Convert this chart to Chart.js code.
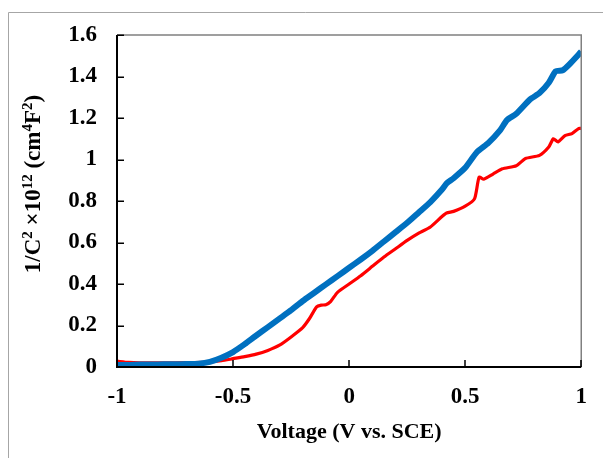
<!DOCTYPE html>
<html>
<head>
<meta charset="utf-8">
<script src="https://cdn.jsdelivr.net/npm/chart.js@4"></script>
<style>
  html, body { margin: 0; padding: 0; background: #fff; }
  #wrap { width: 603px; height: 458px; }
</style>
</head>
<body>
<div id="wrap"><canvas id="myChart" width="603" height="458"></canvas></div>
<script>
// Mott-Schottky curves, 1/C^2 (x10^12) against potential
const blueVoltage = [-1, -0.95, -0.9, -0.85, -0.8, -0.75, -0.7, -0.65, -0.6, -0.55, -0.5, -0.45, -0.4, -0.35, -0.3, -0.25, -0.2, -0.15, -0.1, -0.05, 0, 0.05, 0.1, 0.15, 0.2, 0.25, 0.3, 0.35, 0.4, 0.42, 0.45, 0.5, 0.55, 0.6, 0.65, 0.68, 0.72, 0.78, 0.82, 0.86, 0.89, 0.92, 0.95, 1];
const blueValues = [0.010, 0.010, 0.012, 0.012, 0.013, 0.013, 0.014, 0.016, 0.025, 0.045, 0.072, 0.11, 0.152, 0.192, 0.233, 0.274, 0.318, 0.358, 0.398, 0.438, 0.478, 0.518, 0.56, 0.605, 0.65, 0.695, 0.745, 0.795, 0.855, 0.885, 0.91, 0.96, 1.035, 1.08, 1.14, 1.19, 1.22, 1.29, 1.32, 1.37, 1.425, 1.43, 1.46, 1.52];

const redVoltage = [-1, -0.95, -0.9, -0.8, -0.7, -0.6, -0.55, -0.5, -0.45, -0.4, -0.35, -0.3, -0.25, -0.2, -0.17, -0.14, -0.12, -0.1, -0.08, -0.05, 0, 0.05, 0.1, 0.15, 0.2, 0.25, 0.3, 0.35, 0.4, 0.42, 0.45, 0.5, 0.54, 0.56, 0.58, 0.62, 0.66, 0.72, 0.76, 0.82, 0.86, 0.88, 0.9, 0.93, 0.96, 0.99, 1];
const redValues = [0.028, 0.022, 0.020, 0.020, 0.021, 0.024, 0.03, 0.04, 0.05, 0.062, 0.08, 0.105, 0.145, 0.19, 0.235, 0.29, 0.298, 0.30, 0.315, 0.36, 0.40, 0.44, 0.485, 0.53, 0.57, 0.61, 0.645, 0.675, 0.725, 0.742, 0.75, 0.775, 0.81, 0.915, 0.905, 0.93, 0.955, 0.97, 1.005, 1.02, 1.06, 1.10, 1.085, 1.115, 1.125, 1.15, 1.15];

const xTitle = 'Voltage (V vs. SCE)';
// [text, isSuperscript]
const yTitleParts = [['1/C', false], ['2', true], [' \u00d710', false], ['12', true], [' (cm', false], ['4', true], ['F', false], ['2', true], [')', false]];

const FONT_FAMILY = '"Liberation Serif", "Times New Roman", serif';

function toPoints(xs, ys) {
  return xs.map((x, i) => ({ x: x, y: ys[i] }));
}

// plain number labels: 1 not 1.0
function plainLabel(value) {
  return String(Math.round(value * 100) / 100);
}

// frame, inward tick marks and axis titles
const decorations = {
  id: 'decorations',
  beforeDraw(chart) {
    const ctx = chart.ctx;
    ctx.save();
    ctx.strokeStyle = '#a6a6a6';
    ctx.lineWidth = 1;
    ctx.beginPath();
    ctx.moveTo(8.5, 458);
    ctx.lineTo(8.5, 12.5);
    ctx.lineTo(603, 12.5);
    ctx.stroke();
    ctx.restore();
  },
  afterDraw(chart) {
    const ctx = chart.ctx;
    const area = chart.chartArea;
    const xs = chart.scales.x;
    const ys = chart.scales.y;
    ctx.save();

    // top and right edges of the plot box
    ctx.strokeStyle = '#808080';
    ctx.lineWidth = 1.5;
    ctx.beginPath();
    ctx.moveTo(area.left, area.top);
    ctx.lineTo(area.right, area.top);
    ctx.lineTo(area.right, area.bottom);
    ctx.stroke();

    // left and bottom axes
    ctx.strokeStyle = '#000';
    ctx.lineWidth = 2;
    ctx.beginPath();
    ctx.moveTo(area.left, area.top);
    ctx.lineTo(area.left, area.bottom);
    ctx.lineTo(area.right, area.bottom);
    ctx.stroke();

    ctx.lineWidth = 1.5;
    ctx.beginPath();
    ys.ticks.forEach(t => {
      const p = Math.round(ys.getPixelForValue(t.value)) + 0.25;
      ctx.moveTo(area.left, p);
      ctx.lineTo(area.left + 7, p);
    });
    xs.ticks.forEach(t => {
      const p = Math.round(xs.getPixelForValue(t.value));
      ctx.moveTo(p, area.bottom);
      ctx.lineTo(p, area.bottom - 7);
    });
    ctx.stroke();

    ctx.fillStyle = '#000';
    ctx.textBaseline = 'middle';
    ctx.textAlign = 'center';
    ctx.font = 'bold 22px ' + FONT_FAMILY;
    ctx.fillText(xTitle, (area.left + area.right) / 2, 432);

    // rotated y title with superscripts
    const bigFont = 'bold 23px ' + FONT_FAMILY;
    const smallFont = 'bold 15px ' + FONT_FAMILY;
    let total = 0;
    yTitleParts.forEach(([txt, sup]) => {
      ctx.font = sup ? smallFont : bigFont;
      total += ctx.measureText(txt).width;
    });
    ctx.translate(33, 184);
    ctx.rotate(-Math.PI / 2);
    ctx.textAlign = 'left';
    ctx.textBaseline = 'alphabetic';
    let cx = -total / 2;
    yTitleParts.forEach(([txt, sup]) => {
      ctx.font = sup ? smallFont : bigFont;
      ctx.fillText(txt, cx, sup ? -1 : 7);
      cx += ctx.measureText(txt).width;
    });
    ctx.restore();
  }
};

const data = {
  datasets: [
    {
      label: 'blue',
      data: toPoints(blueVoltage, blueValues),
      borderColor: '#0070C0',
      borderWidth: 6,
      showLine: true,
      pointRadius: 0,
      tension: 0.2
    },
    {
      label: 'red',
      data: toPoints(redVoltage, redValues),
      borderColor: '#FF0000',
      borderWidth: 3.2,
      showLine: true,
      pointRadius: 0,
      tension: 0.2
    }
  ]
};

const config = {
  type: 'scatter',
  data: data,
  options: {
    responsive: false,
    animation: false,
    layout: { padding: { left: 0, top: 35, right: 15, bottom: 0 } },
    plugins: {
      legend: { display: false },
      tooltip: { enabled: false }
    },
    scales: {
      x: {
        type: 'linear',
        min: -1,
        max: 1,
        border: { display: false },
        grid: { display: false, drawTicks: false },
        ticks: {
          stepSize: 0.5,
          padding: 16,
          color: '#000',
          font: { family: FONT_FAMILY, size: 23, weight: 'bold' },
          callback: plainLabel
        },
        afterFit(scale) { scale.height = 91; }
      },
      y: {
        min: 0,
        max: 1.6,
        border: { display: false },
        grid: { display: false, drawTicks: false },
        ticks: {
          stepSize: 0.2,
          padding: 20,
          color: '#000',
          font: { family: FONT_FAMILY, size: 23, weight: 'bold' },
          callback: plainLabel
        },
        afterFit(scale) { scale.width = 117; }
      }
    }
  },
  plugins: [decorations]
};

const ctx = document.getElementById('myChart').getContext('2d');
const myChart = new Chart(ctx, config);
</script>
</body>
</html>
